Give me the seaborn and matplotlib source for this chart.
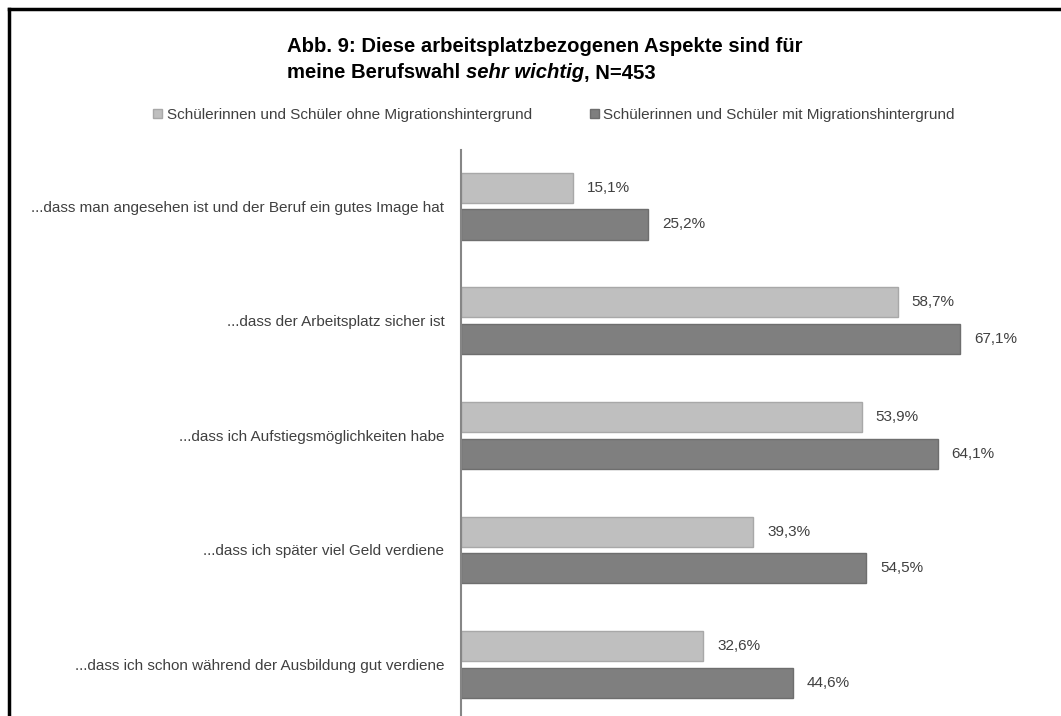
import matplotlib
matplotlib.use("Agg")
import matplotlib.pyplot as plt
from matplotlib.lines import Line2D
from matplotlib.patches import Patch
import seaborn as sns
import pandas as pd

categories = [
    "...dass man angesehen ist und der Beruf ein gutes Image hat",
    "...dass der Arbeitsplatz sicher ist",
    "...dass ich Aufstiegsmöglichkeiten habe",
    "...dass ich später viel Geld verdiene",
    "...dass ich schon während der Ausbildung gut verdiene",
]
groups = [
    "Schülerinnen und Schüler ohne Migrationshintergrund",
    "Schülerinnen und Schüler mit Migrationshintergrund",
]
ohne_migration = [15.1, 58.7, 53.9, 39.3, 32.6]
mit_migration = [25.2, 67.1, 64.1, 54.5, 44.6]
colors = ["#BFBFBF", "#7F7F7F"]
edges = ["#A8A8A8", "#6E6E6E"]

df = pd.DataFrame({
    "Aspekt": categories * 2,
    "Gruppe": [groups[0]] * len(categories) + [groups[1]] * len(categories),
    "Prozent": ohne_migration + mit_migration,
})

sns.set_theme(style="white")
plt.rcParams["font.family"] = ["Liberation Sans", "DejaVu Sans"]

fig = plt.figure(figsize=(10.61, 7.16), dpi=100)
ax = fig.add_axes([461 / 1061, 0.0, 595 / 1061, 1 - 150 / 716])

sns.barplot(
    data=df, y="Aspekt", x="Prozent", hue="Gruppe", order=categories,
    hue_order=groups, palette=colors, orient="h", width=0.64, gap=0.18,
    ax=ax, legend=False, linewidth=1.0,
)
for i, cont in enumerate(ax.containers):
    for bar in cont:
        bar.set_edgecolor(edges[i])
    ax.bar_label(cont, labels=[f"{v:.1f}%".replace(".", ",") for v in cont.datavalues],
                 padding=10, fontsize=11, color="#404040")

ax.set_xlim(0, 80)
ax.set_ylim(4.45, -0.49)
ax.set_xlabel("")
ax.set_ylabel("")
ax.set_xticks([])
ax.tick_params(axis="y", length=0, pad=12, labelsize=11, labelcolor="#404040")
for side in ["top", "right", "bottom"]:
    ax.spines[side].set_visible(False)
ax.spines["left"].set_color("#868686")
ax.spines["left"].set_linewidth(1.5)

# title, two lines, with italic fragment
title_size = 14.6
fig.text(287 / 1061, 1 - 47 / 716, "Abb. 9: Diese arbeitsplatzbezogenen Aspekte sind für",
         fontsize=title_size, fontweight="bold", ha="left", va="center", color="#000000")
t1 = fig.text(287 / 1061, 1 - 73 / 716, "meine Berufswahl ", fontsize=title_size,
              fontweight="bold", ha="left", va="center", color="#000000")
fig.canvas.draw()
r = fig.canvas.get_renderer()
bb = t1.get_window_extent(r)
t2 = fig.text(bb.x1 / fig.bbox.width, 1 - 73 / 716, "sehr wichtig", fontsize=title_size,
              fontweight="bold", style="italic", ha="left", va="center", color="#000000")
bb2 = t2.get_window_extent(r)
fig.text(bb2.x1 / fig.bbox.width, 1 - 73 / 716, ", N=453", fontsize=title_size,
         fontweight="bold", ha="left", va="center", color="#000000")

# legend
handles = [Patch(facecolor=colors[i], edgecolor=edges[i]) for i in range(2)]
fig.legend(handles, groups, loc="center", bbox_to_anchor=(0.522, 1 - 115 / 716),
           ncol=2, frameon=False, fontsize=11, handlelength=0.6, handleheight=0.6,
           handletextpad=0.3, columnspacing=3.8, labelcolor="#404040")

# frame along top and left edge
fig.add_artist(Line2D([8.5 / 1061, 1.0], [1 - 8.5 / 716] * 2, color="black", lw=2.5,
                      transform=fig.transFigure, solid_capstyle="projecting"))
fig.add_artist(Line2D([8.5 / 1061] * 2, [0.0, 1 - 8.5 / 716], color="black", lw=2.5,
                      transform=fig.transFigure, solid_capstyle="projecting"))

fig.savefig("out.png", dpi=100)
